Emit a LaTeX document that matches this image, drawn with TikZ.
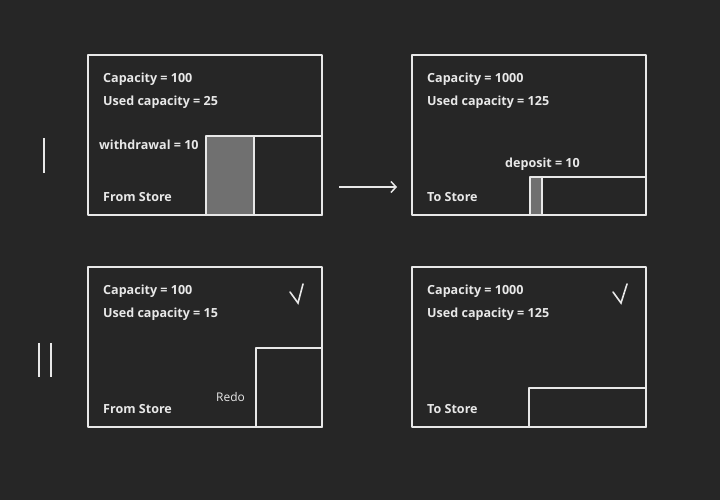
\documentclass[tikz,border=0pt]{standalone}
\usepackage{fontspec}
\setmainfont{Open Sans}
\usepackage{tikz}
\usetikzlibrary{arrows.meta}
\definecolor{bgcol}{RGB}{38,38,38}
\definecolor{inkcol}{RGB}{232,232,232}
\definecolor{usedcol}{RGB}{112,112,112}

\begin{document}
\begin{tikzpicture}[>={Straight Barb[length=5bp,width=11bp]},line join=bevel,
  store/.style={draw=inkcol,line width=2bp,inner sep=0pt,outer sep=0pt,
    minimum width=234bp,minimum height=160bp},
  slot/.style={draw=inkcol,line width=2bp,inner sep=0pt,outer sep=0pt,anchor=south east},
  used/.style={slot,fill=usedcol},
  lbl/.style={text=inkcol,anchor=base west,inner sep=0pt,font=\fontsize{12.6}{14}\selectfont\bfseries},
  note/.style={lbl,font=\fontsize{12}{14}\selectfont},
  tick/.style={draw=inkcol,line width=1.6bp,line cap=round,line join=miter}]
%%
\fill[bgcol] (0bp,0bp) rectangle (720bp,500bp);
\useasboundingbox (0bp,0bp) rectangle (720bp,500bp);
%% stores
  \node (from1) at (205bp,365bp) [store] {};
  \node (to1) at (529bp,365bp) [store] {};
  \node (from2) at (205bp,153bp) [store] {};
  \node (to2) at (529bp,153bp) [store] {};
%% slots
  \node (free1) at (from1.south east) [slot,minimum width=68bp,minimum height=79bp] {};
  \node (wd1) at (free1.south west) [used,minimum width=48bp,minimum height=79bp] {};
  \node (free2) at (to1.south east) [slot,minimum width=104bp,minimum height=38bp] {};
  \node (dp2) at (free2.south west) [used,minimum width=12bp,minimum height=38bp] {};
  \node (free3) at (from2.south east) [slot,minimum width=66bp,minimum height=79bp] {};
  \node (free4) at (to2.south east) [slot,minimum width=117bp,minimum height=39bp] {};
%% labels
  \node (cap1) at (103bp,417bp) [lbl] {Capacity = 100};
  \node (use1) at (103bp,394bp) [lbl] {Used capacity = 25};
  \node (wdl) at (99bp,350bp) [lbl] {withdrawal = 10};
  \node (nm1) at (103bp,298bp) [lbl] {From Store};
  \node (cap2) at (427bp,417bp) [lbl] {Capacity = 1000};
  \node (use2) at (427bp,394bp) [lbl] {Used capacity = 125};
  \node (dpl) at (505bp,332bp) [lbl] {deposit = 10};
  \node (nm2) at (427bp,298bp) [lbl] {To Store};
  \node (cap3) at (103bp,205bp) [lbl] {Capacity = 100};
  \node (use3) at (103bp,182bp) [lbl] {Used capacity = 15};
  \node (redo) at (216bp,98bp) [note] {Redo};
  \node (nm3) at (103bp,86bp) [lbl] {From Store};
  \node (cap4) at (427bp,205bp) [lbl] {Capacity = 1000};
  \node (use4) at (427bp,182bp) [lbl] {Used capacity = 125};
  \node (nm4) at (427bp,86bp) [lbl] {To Store};
%% arrow
  \coordinate (arrS) at (339bp,313bp);
  \coordinate (arrE) at (397bp,313bp);
  \draw [inkcol,line width=1.5bp,->] (arrS) -- (arrE);
%% step marks
  \draw [inkcol,line width=2.8bp] (44bp,362bp) -- (44bp,327bp);
  \draw [inkcol,line width=2.8bp] (39bp,157bp) -- (39bp,123bp);
  \draw [inkcol,line width=2.8bp] (51bp,157bp) -- (51bp,123bp);
  \draw [tick] (290bp,208bp) -- (298bp,197bp) -- (303bp,216bp);
  \draw [tick] (613bp,208bp) -- (621bp,197bp) -- (627bp,216bp);
%
\end{tikzpicture}
\end{document}
